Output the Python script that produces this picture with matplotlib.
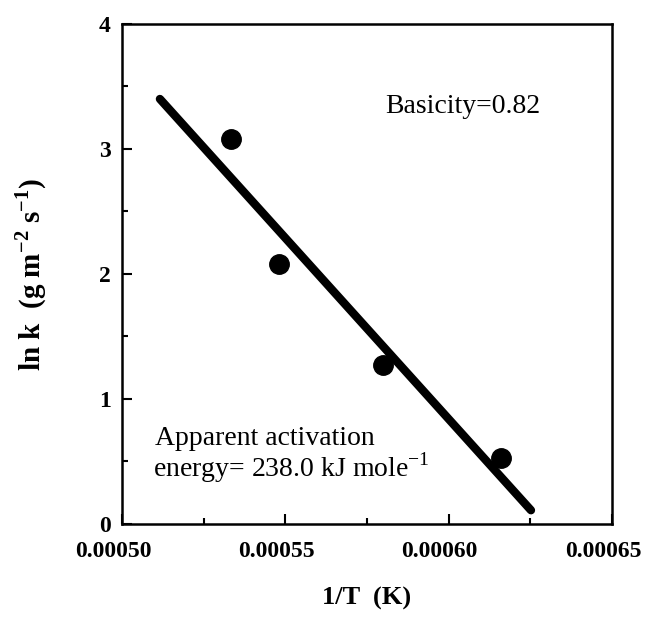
import matplotlib
matplotlib.use("Agg")
import matplotlib.pyplot as plt
import matplotlib.transforms as mtransforms
import numpy as np
from matplotlib.ticker import MultipleLocator, FormatStrFormatter

plt.rcParams['font.family'] = ['Liberation Serif', 'DejaVu Serif']
plt.rcParams['mathtext.fontset'] = 'custom'
plt.rcParams['mathtext.rm'] = 'Liberation Serif'
plt.rcParams['mathtext.bf'] = 'Liberation Serif:bold'

# data
inv_T = [0.0005334, 0.0005481, 0.0005799, 0.000616]
ln_k = [3.08, 2.08, 1.27, 0.53]
fit_x = [0.0005116, 0.0006252]
fit_y = [3.40, 0.11]
x_ticks = [0.00050, 0.00055, 0.00060, 0.00065]
y_ticks = [0, 1, 2, 3, 4]

fig = plt.figure(figsize=(6.47, 6.21), dpi=100)
ax = fig.add_axes([0.1886, 0.1562, 0.7573, 0.8052])

ax.plot(fit_x, fit_y, color='black', lw=6, solid_capstyle='round')
ax.plot(inv_T, ln_k, 'o', color='black', markersize=14)

ax.set_xlim(0.00050, 0.00065)
ax.set_ylim(0, 4)
ax.set_xticks(x_ticks)
ax.set_yticks(y_ticks)
ax.xaxis.set_minor_locator(MultipleLocator(0.000025))
ax.yaxis.set_minor_locator(MultipleLocator(0.5))
ax.xaxis.set_major_formatter(FormatStrFormatter('%.5f'))
ax.tick_params(which='both', direction='in', width=1.5)
ax.tick_params(which='major', length=7)
ax.tick_params(which='minor', length=4)
ax.tick_params(axis='x', pad=12)
ax.tick_params(axis='y', pad=8)
for lab in ax.get_xticklabels() + ax.get_yticklabels():
    lab.set_fontweight('bold')
    lab.set_fontsize(17)
shift = mtransforms.ScaledTranslation(-9 / 100, 0, fig.dpi_scale_trans)
for lab in ax.get_xticklabels():
    lab.set_transform(lab.get_transform() + shift)
for sp in ax.spines.values():
    sp.set_linewidth(1.8)

ax.set_xlabel('1/T  (K)', fontsize=19, fontweight='bold', labelpad=18)
ax.set_ylabel(r'ln k  (g m$^{\mathbf{-2}}$ s$^{\mathbf{-1}}$)', fontsize=21, fontweight='bold', labelpad=36)

ax.text(0.0005805, 3.288, 'Basicity=0.82', fontsize=20, ha='left', va='baseline')
ax.text(0.0005101, 0.628, 'Apparent activation', fontsize=20, ha='left', va='baseline')
ax.text(0.0005095, 0.376, 'energy= 238.0 kJ mole$^{-1}$', fontsize=20, ha='left', va='baseline')

fig.savefig('out.png', dpi=100)
